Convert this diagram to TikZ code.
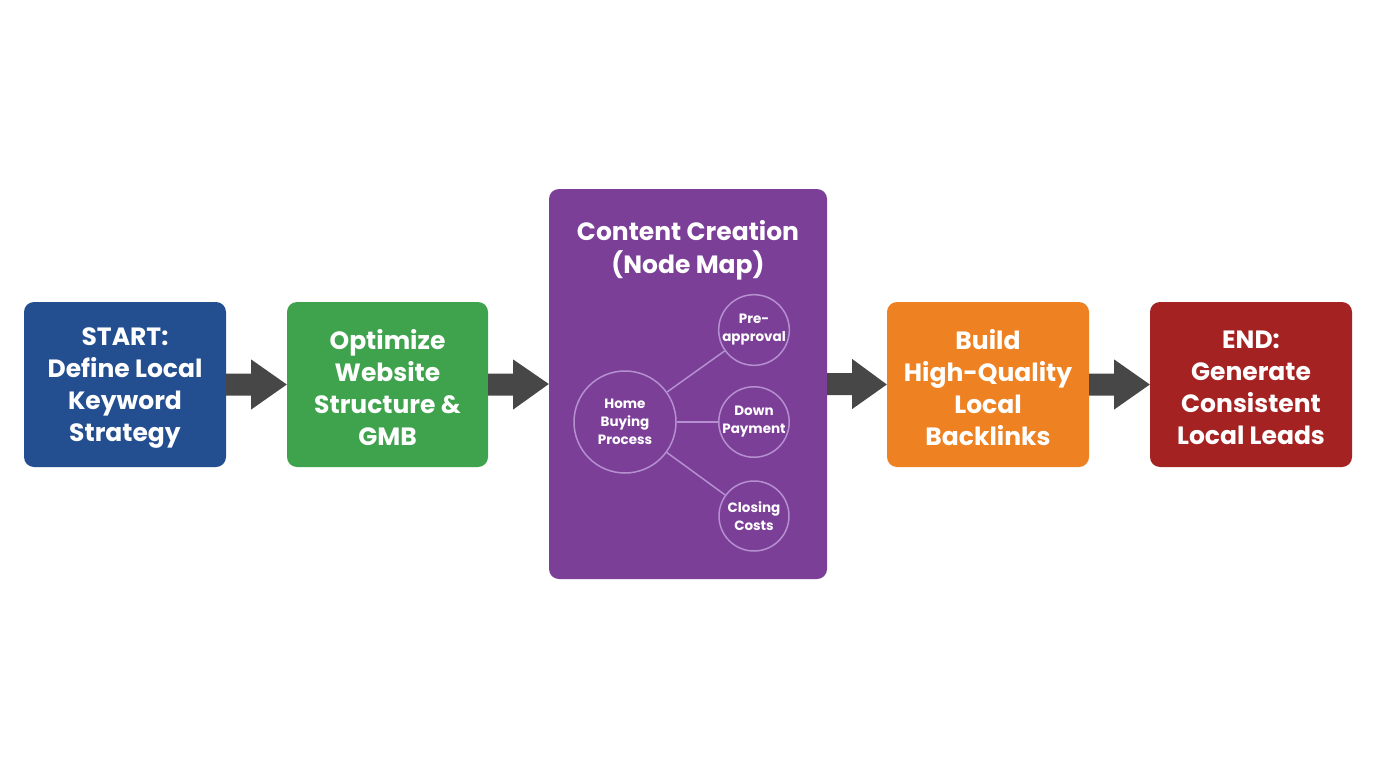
\documentclass[tikz,border=0pt]{standalone}
\usepackage{fontspec}
\setmainfont{Poppins}
\usetikzlibrary{calc}
\definecolor{cblue}{HTML}{234E8F}
\definecolor{cgreen}{HTML}{3FA34D}
\definecolor{cpurple}{HTML}{7B3F98}
\definecolor{corange}{HTML}{EE8222}
\definecolor{cred}{HTML}{A52222}
\definecolor{carrow}{HTML}{474747}
\definecolor{cline}{HTML}{B58FD0}
\begin{document}
\begin{tikzpicture}[x=1pt,y=-1pt,
 box/.style={rounded corners=10pt,fill=#1,minimum width=202pt,minimum height=165pt,inner sep=0pt},
 btxt/.style={text=white,align=center,font=\fontsize{25}{32}\selectfont\bfseries,inner sep=0pt},
 sm/.style={circle,draw=cline,line width=1.5pt,text=white,align=center,font=\fontsize{13.5}{18}\selectfont\bfseries,minimum size=70pt,inner sep=0pt},
 lk/.style={draw=cline,line width=1.5pt},
 arr/.style={fill=carrow}]
\useasboundingbox (0,0) rectangle (1376,768);
\fill[white] (0,0) rectangle (1376,768);
\node[box=cblue] (b1) at (125,384.5) {};
\node[btxt] at (125,388) {START:\\Define Local\\Keyword\\Strategy};
\node[box=cgreen,minimum width=201pt] (b2) at (387.5,384.5) {};
\node[btxt] at (387.5,388) {Optimize\\Website\\Structure \&\\GMB};
\node[box=cpurple,minimum width=278pt,minimum height=390pt] (b3) at (688,384) {};
\node[btxt,font=\fontsize{25}{33}\selectfont\bfseries] (t3) at (688,250) {Content Creation\\(Node Map)};
\node[box=corange] (b4) at (988,384.5) {};
\node[btxt] at (988,388) {Build\\High-Quality\\Local\\Backlinks};
\node[box=cred] (b5) at (1251,384.5) {};
\node[btxt] at (1251,388) {END:\\Generate\\Consistent\\Local Leads};
\foreach \s/\t in {b1/b2,b2/b3,b3/b4,b4/b5}{
 \fill[arr] ($(\s.east)+(0,-11)$) -- ++(25,0) -- ++(0,-14) -- (\t.west) -- ($(\s.east)+(25,25)$) -- ++(0,-14) -- ($(\s.east)+(0,11)$) -- cycle;
}
\node[sm,minimum size=102pt] (hb) at (625,422) {Home\\Buying\\Process};
\node[sm] (pa) at (754,330) {Pre-\\approval};
\node[sm] (dp) at (754,422) {Down\\Payment};
\node[sm] (cc) at (754,516) {Closing\\Costs};
\draw[lk] (hb) -- (pa);
\draw[lk] (hb) -- (dp);
\draw[lk] (hb) -- (cc);
\end{tikzpicture}
\end{document}
